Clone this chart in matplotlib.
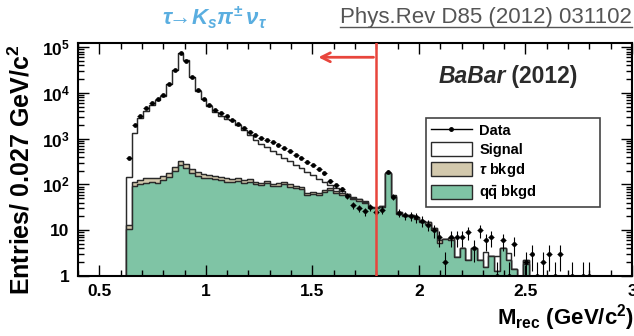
import numpy as np
import matplotlib
matplotlib.use("Agg")
import matplotlib.pyplot as plt
from matplotlib.lines import Line2D
from matplotlib.patches import Patch
from matplotlib.ticker import FixedLocator, MultipleLocator, LogLocator, NullFormatter

plt.rcParams['font.family'] = ['Liberation Sans', 'DejaVu Sans']
plt.rcParams['mathtext.fontset'] = 'custom'
plt.rcParams['mathtext.rm'] = 'Liberation Sans:bold'
plt.rcParams['mathtext.it'] = 'Liberation Sans:italic:bold'
plt.rcParams['mathtext.bf'] = 'Liberation Sans:bold'

# binning of the recoil mass histogram (GeV/c^2)
bin_lo = 0.625
bin_w = 0.027
n_bins = 88

# entries per bin, one value per bin
qq_bkgd = [10.7, 93, 102, 110, 115, 110, 126, 148, 195, 269, 229, 174, 151, 141, 135, 129, 126, 112,
           115, 120, 110, 112, 100, 95, 105, 91, 93, 102, 89, 85, 81, 60, 62, 60, 69, 76, 66, 60,
           58, 48, 44, 40, 30, 30, 32, 174, 54,
           23, 20, 20, 18, 15, 14, 10, 5.2, 6.3, 6, 2.6, 4, 2.2, 4, 2.2, 1.6, 2.8, 1.3, 4, 2.2, 1.4, 0, 1.8,
           0, 0, 0, 0, 0, 0, 0, 0, 0, 0, 0, 0, 0, 0, 0, 0, 0, 0]
tau_bkgd = [2.2, 22, 24, 25, 26, 28, 29, 34, 45, 62, 53, 40, 35, 29, 27, 26, 22, 23,
            17, 18, 16, 17, 15, 15, 12, 11, 12, 13, 11, 8, 8, 6, 6, 6, 7, 7, 6, 6,
            4, 3, 3, 2, 2, 1, 1, 4, 2,
            2, 1.5, 1.5, 1.2, 1, 1, 1, 0.8, 0, 0.6, 0, 0, 0, 0, 0, 0, 0, 0, 0, 0, 0, 0, 0.4,
            0, 0, 0, 0, 0, 0, 0, 0, 0, 0, 0, 0, 0, 0, 0, 0, 0, 0]
signal = [135, 1203, 2692, 3846, 5229, 6780, 8555, 15306, 32119, 75527, 51004, 21664, 11034, 7074,
          4967, 3735, 3014, 2495,
          2380, 1857, 1423, 1073, 840, 666, 529, 448, 352, 265, 224, 176, 135, 125, 90, 66, 36, 12,
          11, 6, 1, 1, 1, 1, 0, 1, 1, 4, 2,
          0.5, 0, 0, 0, 0, 0, 0, 0, 0, 0, 0, 0, 0, 0, 0, 1.8, 0, 1.5, 0, 1.0, 0, 0, 0,
          0, 0, 0, 0, 0, 0, 0, 0, 0, 0, 0, 0, 0, 0, 0, 0, 0, 0]
data = [380, 1995, 3090, 4571, 5888, 7244, 8913, 15488, 32359, 75858, 50119, 21878, 11482, 7244,
        5370, 4169, 3631, 3090,
        2570, 2138, 1738, 1413, 1202, 1047, 933, 832, 724, 631, 537, 447, 380, 316, 263, 214, 174,
        120, 95, 79, 56, 35, 30, 26, 32, 25, 28, 191, 54,
        24, 21, 20, 19, 16, 13, 10, 7, 2, 7, 7, 7, 9, 4, 10, 6, 7, 1, 6, 1, 5, 0, 2,
        3, 1, 2, 3, 1, 3, 0, 1, 0, 1, 1, 0, 0, 0, 0, 0, 0, 0]

x_ticks = [0.5, 1, 1.5, 2, 2.5, 3]
x_labels = ['0.5', '1', '1.5', '2', '2.5', '3']
y_ticks = [1, 10, 1e2, 1e3, 1e4, 1e5]
y_labels = ['1', '10', r'$10^{2}$', r'$10^{3}$', r'$10^{4}$', r'$10^{5}$']
m_tau = 1.8

GREEN = '#7fc4a5'
TAN = '#d3c9ad'
RED = '#e8453c'
EDGE = '#2a2a2a'

edges = bin_lo + bin_w * np.arange(n_bins + 1)
centers = 0.5 * (edges[:-1] + edges[1:])
qq = np.array(qq_bkgd, dtype=float)
tau = np.array(tau_bkgd, dtype=float)
sig = np.array(signal, dtype=float)
obs = np.array(data, dtype=float)

fig = plt.figure(figsize=(6.34, 3.36), dpi=100)
ax = fig.add_axes([78 / 634, 1 - 276 / 336, (632 - 78) / 634, (276 - 43) / 336])

# stacked MC: total (white), qq+tau (tan), qq (green)
floor = 0.1
for vals, col in [(qq + tau + sig, 'white'), (qq + tau, TAN), (qq, GREEN)]:
    ax.stairs(np.clip(vals, floor, None), edges, baseline=floor, fill=True,
              facecolor=col, edgecolor=EDGE, linewidth=0.9)
    ax.stairs(np.clip(vals, floor, None), edges, baseline=floor, fill=False,
              edgecolor=EDGE, linewidth=0.9)

# data points
m = obs > 0
ax.errorbar(centers[m], obs[m], xerr=bin_w / 2, yerr=np.sqrt(obs[m]), fmt='o', ms=2.4,
            color='black', elinewidth=0.8, capsize=0, zorder=5)

# tau mass line and arrow
ax.axvline(m_tau, color=RED, lw=1.8, zorder=6)
ax.annotate('', xy=(1.515, 6.0e4), xytext=(m_tau, 6.0e4),
            arrowprops=dict(arrowstyle='->', color=RED, lw=2, mutation_scale=16), zorder=6)

ax.set_yscale('log')
ax.set_xlim(0.4, 3.0)
ax.set_ylim(1, 1.23e5)

ax.xaxis.set_major_locator(FixedLocator(x_ticks))
ax.set_xticklabels(x_labels)
ax.xaxis.set_minor_locator(MultipleLocator(0.1))
ax.yaxis.set_major_locator(FixedLocator(y_ticks))
ax.set_yticklabels(y_labels)
ax.yaxis.set_minor_locator(LogLocator(base=10, subs=np.arange(2, 10)))
ax.yaxis.set_minor_formatter(NullFormatter())
ax.tick_params(which='both', direction='in', top=True, right=True, width=1, colors='black')
ax.tick_params(which='major', length=8, labelsize=12.5, pad=6)
ax.tick_params(which='minor', length=4)
for lab in ax.get_xticklabels() + ax.get_yticklabels():
    lab.set_fontweight('bold')
for s in ax.spines.values():
    s.set_linewidth(1.5)

fig.text(21 / 634, 1 - 170 / 336, 'Entries/ 0.027 GeV/c$^{2}$', fontsize=18,
         fontweight='bold', rotation=90, ha='center', va='center')
fig.text(1.0, 1 - 318 / 336, r'$\mathrm{M_{rec}}$ (GeV/c$^{2}$)', fontsize=16,
         fontweight='bold', ha='right', va='center')

# experiment tag
t1 = ax.text(0.65, 0.855, 'BaBar', transform=ax.transAxes, fontsize=16.5,
             fontweight='bold', style='italic', color='#2b2b2b', va='center')
ax.annotate(' (2012)', xy=(1, 0.5), xycoords=t1, va='center', ha='left',
            fontsize=16.5, fontweight='bold', color='#2b2b2b')

handles = [Line2D([], [], color='black', marker='o', ms=2.5, lw=1),
           Patch(facecolor='white', edgecolor=EDGE),
           Patch(facecolor=TAN, edgecolor=EDGE),
           Patch(facecolor=GREEN, edgecolor=EDGE)]
leg = ax.legend(handles, ['Data', 'Signal', r'$\tau$ bkgd', r'q$\bar{\mathrm{q}}$ bkgd'],
                loc='upper left', bbox_to_anchor=(0.628, 0.296, 0.314, 0.384), mode='expand',
                frameon=True, fancybox=False,
                edgecolor='#444444', framealpha=1, prop={'weight': 'bold', 'size': 10.5},
                handlelength=2.8, handleheight=1.1, borderpad=0.35, labelspacing=0.3,
                handletextpad=0.5, borderaxespad=0)
leg.get_frame().set_linewidth(1.2)

# header line
fig.text(215 / 634, 1 - 18 / 336, r'$\tau\!\!\rightarrow\! K_{s}\pi^{\pm}\,\nu_{\tau}$',
         color='#5aaee0', fontsize=16, ha='center', va='center')
ref = fig.text(340 / 634, 1 - 18 / 336, 'Phys.Rev D85 (2012) 031102', color='#555555',
               fontsize=16, ha='left', va='center')
fig.canvas.draw()
bb = ref.get_window_extent().transformed(fig.transFigure.inverted())
fig.add_artist(Line2D([bb.x0, bb.x1], [bb.y0 + 0.004, bb.y0 + 0.004], color='#555555',
                      lw=1, transform=fig.transFigure))

fig.savefig('out.png', dpi=100)
